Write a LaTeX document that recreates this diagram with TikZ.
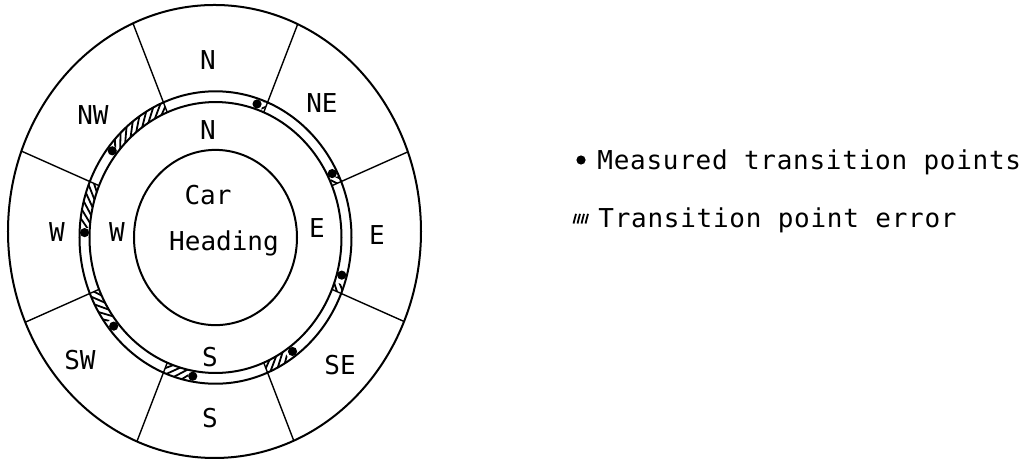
\documentclass[tikz,border=0pt]{standalone}
\usepackage{fontspec}
\newfontfamily\lgfont{DejaVu Sans Mono}
\newfontfamily\lgwide[LetterSpace=2.8]{DejaVu Sans Mono}
\newcommand\hatchseg[2]{%
  \begin{scope}
    \clip (#1:126) arc[start angle=#1, end angle=#2, radius=126] -- (#2:136)
          arc[start angle=#2, end angle=#1, radius=136] -- cycle;
    \pgfmathsetmacro\hend{#2+8}
    \pgfmathsetmacro\hnext{#1+3.4}
    \foreach \a in {#1,\hnext,...,\hend}{%
      \pgfmathsetmacro\ain{\a+2.5}
      \pgfmathsetmacro\aout{\a-7.5}
      \draw[hatchline] (\ain:121) -- (\aout:141);
    }
  \end{scope}}
\begin{document}
\begin{tikzpicture}[x=0.5pt,y=0.5375pt,
  lbl/.style={font=\lgfont\fontsize{13pt}{15pt}\selectfont, inner sep=0pt},
  leg/.style={font=\lgwide\fontsize{13pt}{15pt}\selectfont, inner sep=0pt},
  ring/.style={line width=1pt},
  spoke/.style={line width=0.7pt},
  hatchline/.style={line width=0.9pt},
  mdot/.style={circle, fill=black, inner sep=0pt, minimum size=4.6pt}]
\useasboundingbox (-215.5,220.93) rectangle (811.5,-206.05);

% rings
\draw[ring] (-1,5.6) ellipse [x radius=206.5, y radius=210.7];
\draw[ring] (0,0) circle [radius=136];
\draw[ring] (0,0) circle [radius=126];
\draw[ring] (0,0) circle [radius=81.5];

% spokes
\begin{scope}
  \clip (-1,5.6) ellipse [x radius=206.5, y radius=210.7];
  \foreach \a in {22.5,67.5,...,337.5} \draw[spoke] (\a:126) -- (\a:260);
\end{scope}

% transition point errors
\hatchseg{112.5}{140}
\hatchseg{157.5}{176}
\hatchseg{202.5}{216}
\hatchseg{247.5}{258}
\hatchseg{292.5}{303}
\hatchseg{337.5}{341}
\hatchseg{22.5}{25}
\hatchseg{67.5}{69}

% measured transition points
\node[mdot] (p1) at (71.5:131) {};
\node[mdot] (p2) at (27:131) {};
\node[mdot] (p3) at (344.5:131) {};
\node[mdot] (p4) at (306:131) {};
\node[mdot] (p5) at (260:131) {};
\node[mdot] (p6) at (219:131) {};
\node[mdot] (p7) at (178:131) {};
\node[mdot] (p8) at (142:131) {};

% labels
\node[lbl, anchor=base] (nout) at (-7.5,156.3) {N};
\node[lbl, anchor=base] (ne) at (106.5,116.3) {NE};
\node[lbl, anchor=base] (nw) at (-122.5,105.2) {NW};
\node[lbl, anchor=base] (nin) at (-7.5,91.2) {N};
\node[lbl, anchor=base] (wout) at (-158.5,-3.7) {W};
\node[lbl, anchor=base] (win) at (-98.5,-3.7) {W};
\node[lbl, anchor=base] (ein) at (101.5,0) {E};
\node[lbl, anchor=base] (eout) at (161.5,-6.5) {E};
\node[lbl, anchor=base] (car) at (-7.5,30.7) {Car};
\node[lbl, anchor=base] (heading) at (8.5,-12.1) {Heading};
\node[lbl, anchor=base] (sw) at (-135.5,-122.8) {SW};
\node[lbl, anchor=base] (sin) at (-5.5,-120) {S};
\node[lbl, anchor=base] (se) at (124.5,-127.4) {SE};
\node[lbl, anchor=base] (sout) at (-5.5,-176.7) {S};

% legend
\node[mdot] (ldot) at (365.5,72.1) {};
\node[leg, anchor=base west] (ltext1) at (381.5,63.3) {Measured transition points};
\foreach \x in {358,362,366,370}
  \draw[hatchline] (\x,13) -- (\x+2.5,22);
\node[leg, anchor=base west] (ltext2) at (382.5,9.3) {Transition point error};
\end{tikzpicture}
\end{document}
